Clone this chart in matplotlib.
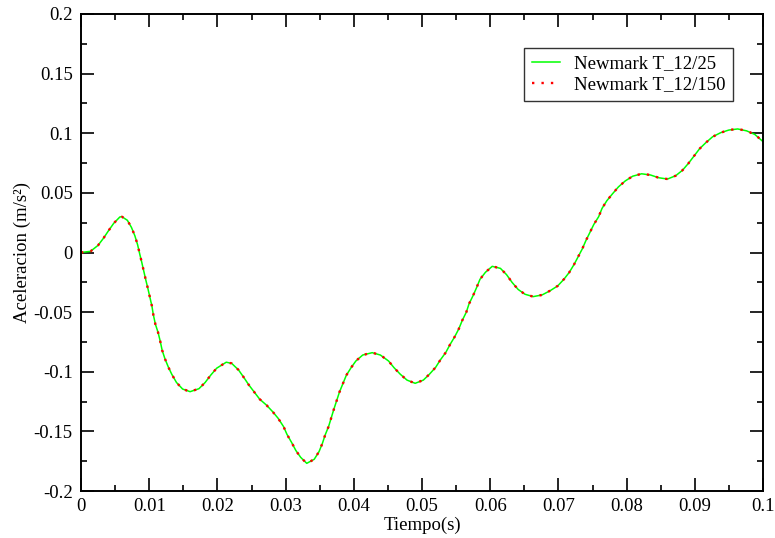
import matplotlib
matplotlib.use('Agg')
import matplotlib.pyplot as plt
from matplotlib.ticker import MultipleLocator

plt.rcParams['font.family'] = ['Liberation Serif', 'DejaVu Serif']

# time (s) and acceleration (m/s^2)
tiempo = [0.0000, 0.0014, 0.0025, 0.0033, 0.0040, 0.0048, 0.0057, 0.0060, 0.0068, 0.0074,
          0.0079, 0.0083, 0.0086, 0.0089, 0.0092, 0.0095, 0.0098, 0.0101, 0.0104, 0.0106,
          0.0109, 0.0113, 0.0116, 0.0119, 0.0123, 0.0128, 0.0133, 0.0140, 0.0149, 0.0160,
          0.0173, 0.0182, 0.0190, 0.0199, 0.0213, 0.0221, 0.0231, 0.0239, 0.0246, 0.0254,
          0.0262, 0.0272, 0.0281, 0.0289, 0.0297, 0.0302, 0.0309, 0.0315, 0.0322, 0.0331,
          0.0342, 0.0349, 0.0354, 0.0358, 0.0363, 0.0367, 0.0371, 0.0375, 0.0379, 0.0384,
          0.0389, 0.0396, 0.0403, 0.0413, 0.0427, 0.0439, 0.0451, 0.0459, 0.0468, 0.0478,
          0.0490, 0.0502, 0.0511, 0.0520, 0.0527, 0.0535, 0.0541, 0.0548, 0.0554, 0.0559,
          0.0565, 0.0569, 0.0575, 0.0580, 0.0585, 0.0593, 0.0603, 0.0615, 0.0624, 0.0632,
          0.0641, 0.0651, 0.0663, 0.0676, 0.0688, 0.0699, 0.0708, 0.0716, 0.0723, 0.0729,
          0.0735, 0.0740, 0.0746, 0.0752, 0.0759, 0.0764, 0.0771, 0.0779, 0.0788, 0.0798,
          0.0809, 0.0822, 0.0835, 0.0847, 0.0860, 0.0872, 0.0882, 0.0891, 0.0899, 0.0907,
          0.0916, 0.0926, 0.0938, 0.0950, 0.0963, 0.0976, 0.0988, 0.0998, 0.1000]

acel_25 = [0.000, 0.001, 0.006, 0.012, 0.018, 0.0245, 0.0298, 0.030, 0.027, 0.021,
           0.014, 0.0065, -0.001, -0.008, -0.0155, -0.023, -0.030, -0.0376, -0.045, -0.052,
           -0.060, -0.067, -0.074, -0.082, -0.089, -0.096, -0.102, -0.109, -0.1145, -0.1167,
           -0.1142, -0.109, -0.103, -0.097, -0.092, -0.093, -0.0985, -0.105, -0.111, -0.117,
           -0.123, -0.128, -0.1335, -0.139, -0.146, -0.1525, -0.1595, -0.166, -0.1717, -0.1768,
           -0.1734, -0.167, -0.160, -0.153, -0.146, -0.1385, -0.131, -0.124, -0.117, -0.110,
           -0.103, -0.0966, -0.091, -0.086, -0.084, -0.086, -0.091, -0.0966, -0.102, -0.107,
           -0.1097, -0.107, -0.102, -0.0963, -0.090, -0.0837, -0.0773, -0.0706, -0.064, -0.057,
           -0.050, -0.043, -0.036, -0.0295, -0.0225, -0.0166, -0.0116, -0.0133, -0.0186, -0.025,
           -0.031, -0.035, -0.037, -0.0356, -0.032, -0.028, -0.0225, -0.0166, -0.010, -0.0035,
           0.003, 0.0096, 0.0166, 0.0236, 0.030, 0.037, 0.0434, 0.049, 0.055, 0.060,
           0.064, 0.066, 0.065, 0.0627, 0.0616, 0.0644, 0.069, 0.075, 0.081, 0.087,
           0.092, 0.097, 0.1005, 0.1027, 0.1036, 0.102, 0.099, 0.094, 0.093]

# the finer step gives the same curve at this scale
acel_150 = list(acel_25)

labels = ['Newmark T_12/25', 'Newmark T_12/150']
xticklabels = ['0', '0.01', '0.02', '0.03', '0.04', '0.05', '0.06', '0.07', '0.08', '0.09', '0.1']
yticklabels = ['-0.2', '-0.15', '-0.1', '-0.05', '0', '0.05', '0.1', '0.15', '0.2']

fs = 13.5

fig = plt.figure(figsize=(7.75, 5.38), dpi=100)
ax = fig.add_axes([81 / 775, 1 - 491 / 538, 682 / 775, 477 / 538])

ax.plot(tiempo, acel_25, color='#00ff00', lw=1.1, label=labels[0])
ax.plot(tiempo, acel_150, color='#ff0000', lw=1.7, linestyle=(0, (1, 3)), label=labels[1])

ax.set_xlim(0, 0.1)
ax.set_ylim(-0.2, 0.2)
ax.set_xticks([i * 0.01 for i in range(11)])
ax.set_yticks([-0.2 + i * 0.05 for i in range(9)])
ax.set_xticklabels(xticklabels)
ax.set_yticklabels(yticklabels)
ax.xaxis.set_minor_locator(MultipleLocator(0.005))
ax.yaxis.set_minor_locator(MultipleLocator(0.025))

ax.tick_params(which='both', direction='in', top=True, right=True, labelsize=fs, width=1.2)
ax.tick_params(which='major', length=9.5)
ax.tick_params(which='minor', length=4.5)
ax.tick_params(axis='x', which='major', pad=5)
ax.tick_params(axis='y', which='major', pad=6)
for s in ax.spines.values():
    s.set_linewidth(1.4)

ax.set_xlabel('Tiempo(s)', fontsize=fs, labelpad=1)
ax.set_ylabel('Aceleracion (m/s²)', fontsize=fs, labelpad=2)

leg = ax.legend(loc='upper right', bbox_to_anchor=(0.956, 0.929), borderaxespad=0,
                fancybox=False, edgecolor='black', fontsize=fs, handlelength=1.5,
                handletextpad=0.75, borderpad=0.4, labelspacing=0.2)
leg.get_frame().set_linewidth(1.0)

plt.savefig('out.png', dpi=100)
